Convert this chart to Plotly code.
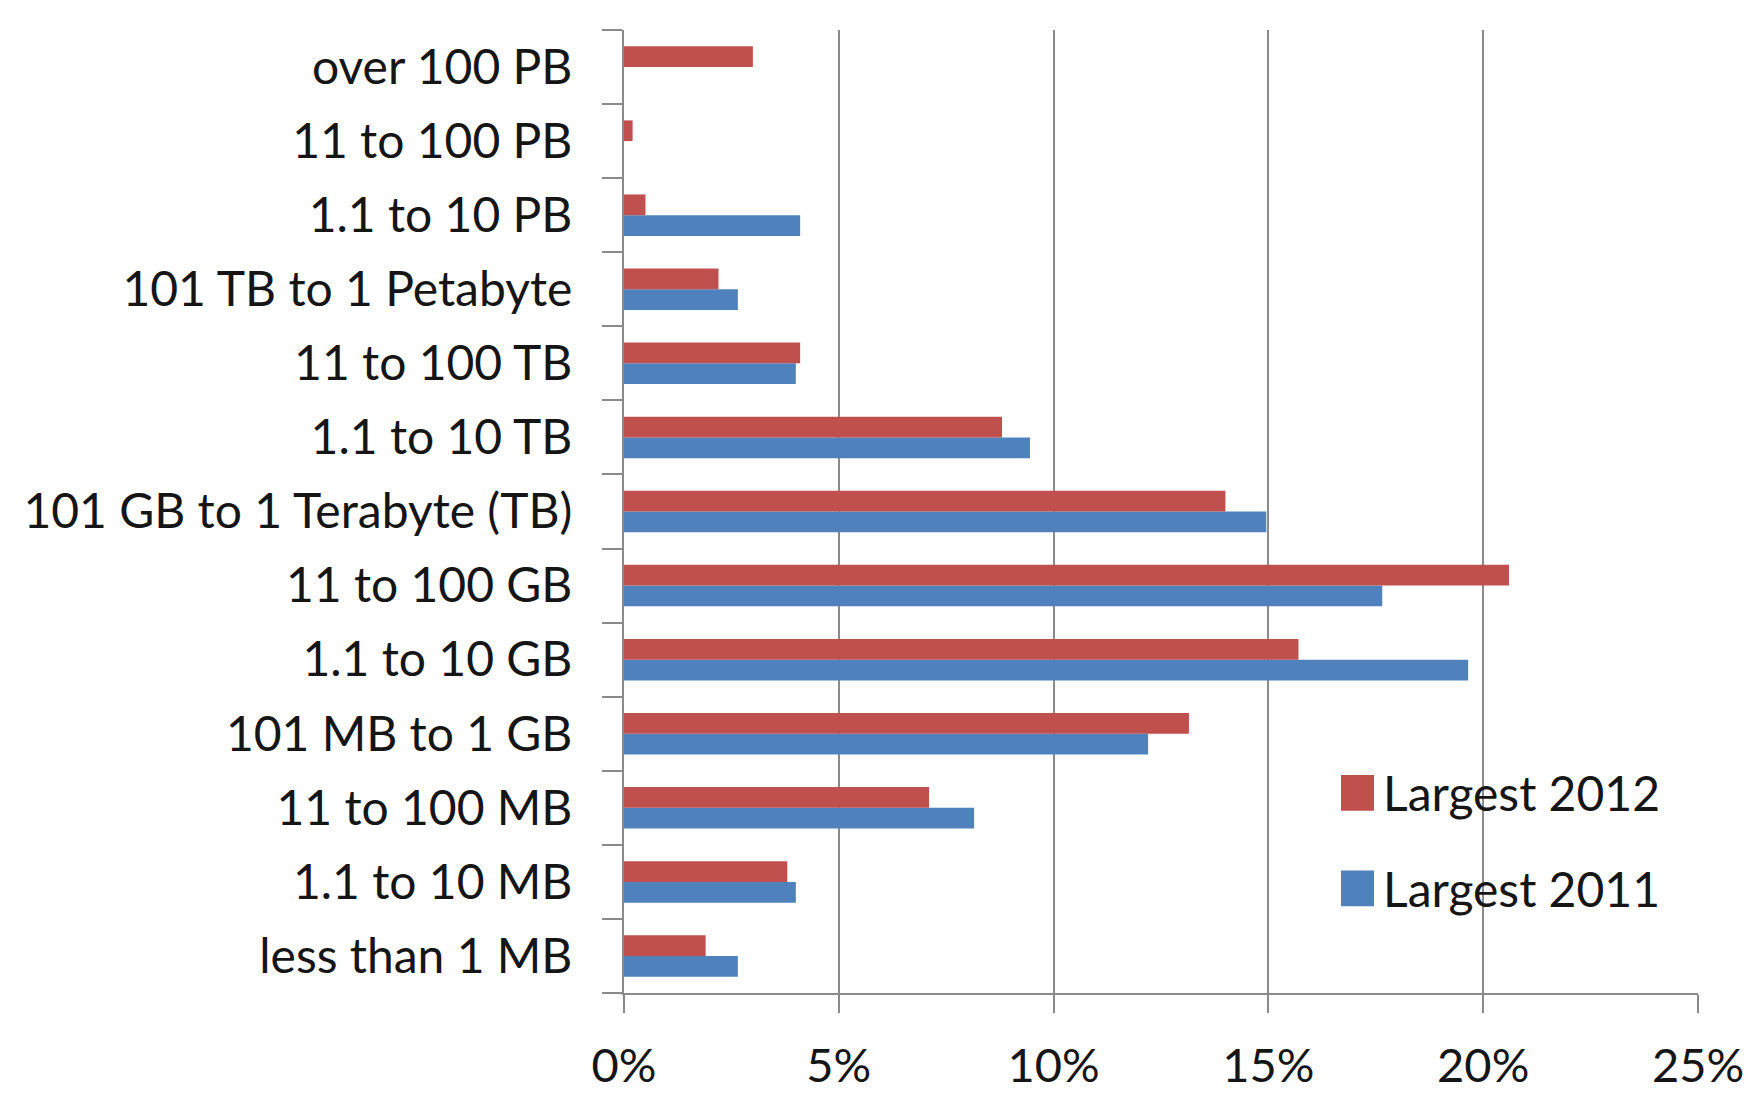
import plotly.graph_objects as go

categories = ["over 100 PB", "11 to 100 PB", "1.1 to 10 PB", "101 TB to 1 Petabyte",
              "11 to 100 TB", "1.1 to 10 TB", "101 GB to 1 Terabyte (TB)", "11 to 100 GB",
              "1.1 to 10 GB", "101 MB to 1 GB", "11 to 100 MB", "1.1 to 10 MB", "less than 1 MB"]
largest_2012 = [3.0, 0.2, 0.5, 2.2, 4.1, 8.8, 14.0, 20.6, 15.7, 13.15, 7.1, 3.8, 1.9]
largest_2011 = [0.0, 0.0, 4.1, 2.65, 4.0, 9.45, 14.95, 17.65, 19.65, 12.2, 8.15, 4.0, 2.65]
series_names = ["Largest 2012", "Largest 2011"]
series_colors = ["#C0504D", "#4F81BD"]
x_ticks = [0, 5, 10, 15, 20, 25]
x_ticklabels = ["0%", "5%", "10%", "15%", "20%", "25%"]

FONT = "Lato, 'Open Sans', sans-serif"
TXT = "#151515"
GRID = "#8a8a8a"

fig = go.Figure()
fig.add_trace(go.Bar(y=categories, x=largest_2011, orientation="h", name=series_names[1],
                     marker=dict(color=series_colors[1], line=dict(width=0)), showlegend=False))
fig.add_trace(go.Bar(y=categories, x=largest_2012, orientation="h", name=series_names[0],
                     marker=dict(color=series_colors[0], line=dict(width=0)), showlegend=False))

# legend drawn with shapes + text (large squares as in the reference)
leg_rows = [(series_names[0], series_colors[0], 0.2079), (series_names[1], series_colors[1], 0.1086)]
for name, color, yc in leg_rows:
    fig.add_shape(type="rect", xref="paper", yref="paper", x0=0.6676, x1=0.6983,
                  y0=yc - 0.0186, y1=yc + 0.0186, fillcolor=color, line=dict(width=0), layer="above")
    fig.add_annotation(xref="paper", yref="paper", x=0.7045, y=yc, text=name, showarrow=False,
                       xanchor="left", yanchor="middle", font=dict(family=FONT, size=48, color=TXT))

fig.update_layout(
    width=1751, height=1096,
    margin=dict(l=616, r=61, t=22, b=89),
    paper_bgcolor="white", plot_bgcolor="white",
    barmode="group", bargap=0.44, bargroupgap=0,
    font=dict(family=FONT, color=TXT),
    xaxis=dict(range=[0, 25], tickvals=x_ticks, ticktext=x_ticklabels,
               showgrid=True, gridcolor=GRID, gridwidth=2,
               showline=True, linecolor=GRID, linewidth=2,
               ticks="outside", ticklen=18, tickwidth=2, tickcolor=GRID,
               tickfont=dict(family=FONT, size=47, color=TXT), ticklabelstandoff=13,
               zeroline=False, fixedrange=True),
    yaxis=dict(type="category", categoryorder="array", categoryarray=list(reversed(categories)),
               showline=True, linecolor=GRID, linewidth=2,
               ticks="outside", ticklen=20, tickwidth=2, tickcolor=GRID, tickson="boundaries",
               tickfont=dict(family=FONT, size=48, color=TXT), ticklabelstandoff=40,
               showgrid=False, fixedrange=True),
)

fig.write_html("out.html")
